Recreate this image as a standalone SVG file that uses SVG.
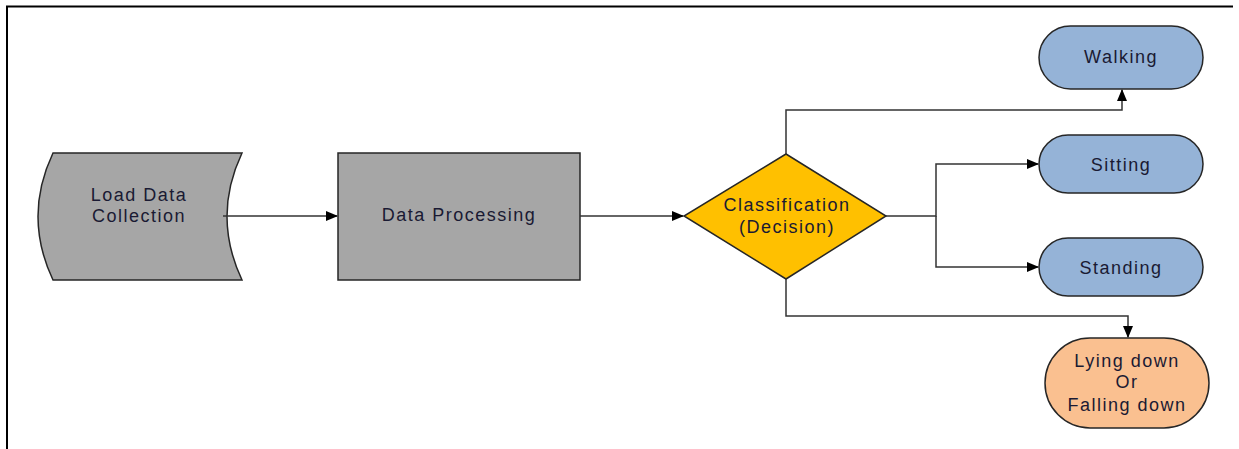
<svg xmlns="http://www.w3.org/2000/svg" width="1239" height="449" viewBox="0 0 1239 449">
<defs>
<style>
.shape{stroke:#262626;stroke-width:1.5}
.gray{fill:#a6a6a6}
.dec{fill:#ffc000}
.blue{fill:#95b3d7}
.orange{fill:#fac090}
.lbl{font-family:"Liberation Sans",Arial,sans-serif;font-size:18px;letter-spacing:1.5px;fill:#1a1a33;text-anchor:middle}
.conn{fill:none;stroke:#333;stroke-width:1.5}
</style>
<marker id="arr" markerWidth="12" markerHeight="10" refX="11" refY="5" orient="auto" markerUnits="userSpaceOnUse">
<path d="M0,0 L12,5 L0,10 Z" fill="#000"/>
</marker>
</defs>
<rect width="1239" height="449" fill="#fff"/>
<path d="M7,449 V6.5 H1233" fill="none" stroke="#000" stroke-width="2"/>
<g id="load">
<path class="shape gray" d="M53,153 H242 Q212,216.5 242,280 H53 Q23,216.5 53,153 Z"/>
<text class="lbl" x="139" y="201">Load Data</text>
<text class="lbl" x="139" y="222">Collection</text>
</g>
<g id="processing">
<rect class="shape gray" x="338" y="153" width="242" height="127"/>
<text class="lbl" x="459" y="221">Data Processing</text>
</g>
<g id="decision">
<path class="shape dec" d="M786,154 L886,216 L786,279 L684,216 Z"/>
<text class="lbl" x="787" y="211">Classification</text>
<text class="lbl" x="787" y="233">(Decision)</text>
</g>
<g id="walking">
<rect class="shape blue" x="1039" y="26" width="164" height="63" rx="31.5"/>
<text class="lbl" x="1121" y="63">Walking</text>
</g>
<g id="sitting">
<rect class="shape blue" x="1039" y="135" width="164" height="58" rx="29"/>
<text class="lbl" x="1121" y="171">Sitting</text>
</g>
<g id="standing">
<rect class="shape blue" x="1039" y="238" width="164" height="58" rx="29"/>
<text class="lbl" x="1121" y="274">Standing</text>
</g>
<g id="lying">
<rect class="shape orange" x="1045" y="338" width="164" height="90" rx="45"/>
<text class="lbl" x="1127" y="367">Lying down</text>
<text class="lbl" x="1127" y="388">Or</text>
<text class="lbl" x="1127" y="411">Falling down</text>
</g>
<g id="connectors">
<path class="conn" d="M223,216 H337" marker-end="url(#arr)"/>
<path class="conn" d="M580,216 H683" marker-end="url(#arr)"/>
<path class="conn" d="M786,154 V110 H1122 V90" marker-end="url(#arr)"/>
<path class="conn" d="M886,216 H936 V164 H1038" marker-end="url(#arr)"/>
<path class="conn" d="M936,216 V267 H1038" marker-end="url(#arr)"/>
<path class="conn" d="M786,279 V316 H1128 V337" marker-end="url(#arr)"/>
</g>
</svg>
